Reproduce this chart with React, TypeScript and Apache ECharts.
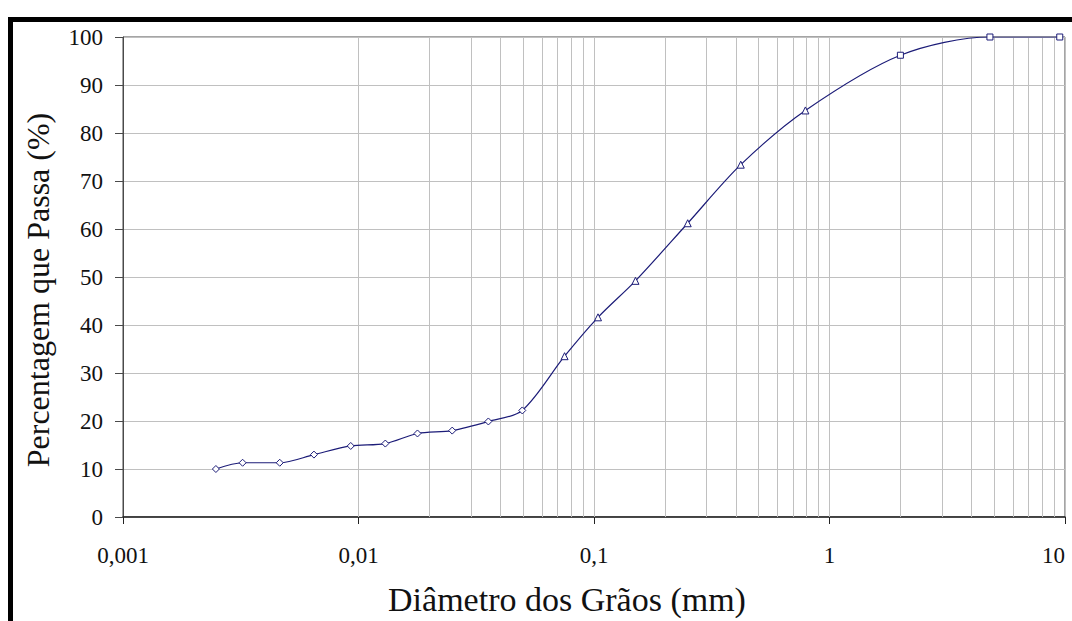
import React, { useEffect, useRef } from "react";
import * as echarts from "echarts";

// Grain diameters (mm) and percentage passing
const hydrometerDiam = [0.00248, 0.00322, 0.00463, 0.00647, 0.00927, 0.0130, 0.0178, 0.0250, 0.0356, 0.0496];
const hydrometerPass = [10.0, 11.3, 11.3, 13.0, 14.8, 15.3, 17.4, 18.0, 19.9, 22.2];
const fineSieveDiam = [0.075, 0.104, 0.150, 0.250, 0.420, 0.790];
const fineSievePass = [33.5, 41.6, 49.2, 61.2, 73.4, 84.7];
const coarseSieveDiam = [2.0, 4.8, 9.5];
const coarseSievePass = [96.2, 100, 100];

const xTickLabels = ["0,001", "0,01", "0,1", "1", "10"];
const minorGridValues: number[] = [];
[0.001, 0.01, 0.1, 1].forEach((d) => {
  for (let k = 1; k <= 9; k++) {
    if (k === 1 && d === 0.001) continue;
    minorGridValues.push(+(k * d).toPrecision(3));
  }
});

const LINE = "#1c1c78";
const FONT = "'Liberation Serif', 'Times New Roman', serif";

export default function App() {
  const ref = useRef<HTMLDivElement>(null);
  useEffect(() => {
    if (!ref.current) return;
    document.body.style.margin = "0";
    document.body.style.overflow = "hidden";
    const chart = echarts.init(ref.current, undefined, { renderer: "svg", width: 1072, height: 621 });
    const pts: any[] = [];
    hydrometerDiam.forEach((d, i) => pts.push({ value: [d, hydrometerPass[i]], symbol: "diamond", symbolSize: 7 }));
    fineSieveDiam.forEach((d, i) => pts.push({ value: [d, fineSievePass[i]], symbol: "triangle", symbolSize: 7 }));
    coarseSieveDiam.forEach((d, i) => pts.push({ value: [d, coarseSievePass[i]], symbol: "rect", symbolSize: 6 }));

    chart.setOption({
      animation: false,
      backgroundColor: "#ffffff",
      grid: {
        left: 123,
        top: 37,
        right: 7,
        bottom: 104,
        containLabel: false,
        outerBoundsMode: "none",
        show: true,
        borderColor: "#4a4a4a",
        borderWidth: 1,
        backgroundColor: "transparent",
      },
      xAxis: {
        type: "log",
        logBase: 10,
        min: 0.001,
        max: 10,
        axisLine: { show: true, lineStyle: { color: "#222", width: 1.5 } },
        axisTick: { show: true, length: 7, inside: false, lineStyle: { color: "#222" } },
        splitLine: { show: true, lineStyle: { color: "#c0c0c0", width: 1 } },
        axisLabel: {
          margin: 27,
          fontFamily: FONT,
          fontSize: 23,
          color: "#111",
          hideOverlap: false,
          alignMaxLabel: "right",
          formatter: (v: number) => xTickLabels[Math.round(Math.log10(v)) + 3] ?? "",
        },
      },
      yAxis: {
        type: "value",
        min: 0,
        max: 100,
        interval: 10,
        axisLine: { show: true, lineStyle: { color: "#4a4a4a", width: 1 } },
        axisTick: { show: true, length: 8, inside: false, lineStyle: { color: "#4a4a4a" } },
        splitLine: { show: true, lineStyle: { color: "#c0c0c0", width: 1 } },
        axisLabel: { margin: 20, fontFamily: FONT, fontSize: 23, color: "#111" },
      },
      series: [
        {
          type: "line",
          silent: true,
          z: 1,
          data: [],
          symbol: "none",
          markLine: {
            silent: true,
            symbol: ["none", "none"],
            label: { show: false },
            lineStyle: { color: "#c0c0c0", type: "solid", width: 1 },
            data: minorGridValues.map((v) => ({ xAxis: v })),
          },
        },
        {
          type: "line",
          z: 5,
          data: pts,
          smooth: 0.3,
          showAllSymbol: true,
          lineStyle: { color: LINE, width: 1.2 },
          itemStyle: { color: "#ffffff", borderColor: LINE, borderWidth: 1 },
        },
      ],
      graphic: [
        { type: "rect", shape: { x: 8, y: 17, width: 1064, height: 5 }, style: { fill: "#000" } },
        { type: "rect", shape: { x: 8, y: 17, width: 5, height: 604 }, style: { fill: "#000" } },
        {
          type: "text",
          x: 567,
          y: 599,
          style: {
            text: "Diâmetro dos Grãos (mm)",
            font: `34px ${FONT}`,
            fill: "#111",
            align: "center",
            verticalAlign: "middle",
          },
        },
        {
          type: "text",
          x: 38,
          y: 290,
          rotation: Math.PI / 2,
          style: {
            text: "Percentagem que Passa (%)",
            font: `32px ${FONT}`,
            fill: "#111",
            align: "center",
            verticalAlign: "middle",
          },
        },
      ],
    });
    return () => chart.dispose();
  }, []);
  return (
    <div
      ref={ref}
      style={{ position: "fixed", left: 0, top: 0, width: 1072, height: 621 }}
    />
  );
}
